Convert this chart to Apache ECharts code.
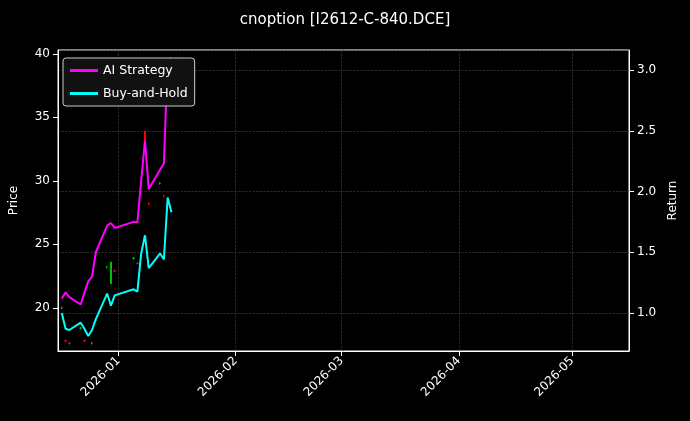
<!DOCTYPE html>
<html>
<head>
<meta charset="utf-8">
<script src="https://cdn.jsdelivr.net/npm/echarts@6/dist/echarts.min.js"></script>
<style>html,body{margin:0;background:#000}#c{width:690px;height:421px}</style>
</head>
<body>
<div id="c"></div>
<script>
// trading days shown
let dates = ['2025-12-17','2025-12-18','2025-12-19','2025-12-22','2025-12-23','2025-12-24','2025-12-25','2025-12-26',
  '2025-12-29','2025-12-30','2025-12-31','2026-01-05','2026-01-06','2026-01-07','2026-01-08','2026-01-09',
  '2026-01-12','2026-01-13','2026-01-14','2026-01-15']
let aiReturn = [1.12,1.17,1.13,1.07,1.17,1.26,1.30,1.50,1.72,1.74,1.70,1.75,1.745,2.09,2.42,2.02,2.18,2.23,3.08,3.10]
let bhReturn = [1.00,0.87,0.86,0.92,0.87,0.81,0.86,0.95,1.16,1.06,1.145,1.195,1.175,1.49,1.64,1.37,1.49,1.44,1.95,1.83]
// open, close, low, high
let ohlc = [[20,20,19.9,20.1],[17.4,17.4,17.3,17.5],[17.2,17.2,17.1,17.3],[18.4,18.4,18.3,18.5],[17.4,17.4,17.3,17.5],
  [16.2,16.2,16.1,16.3],[17.2,17.2,17.1,17.3],[19,19,18.9,19.1],[23.2,23.2,23.1,23.3],[21.9,23.6,21.9,23.6],
  [22.9,22.9,22.8,23],[23.9,23.9,23.8,24],[23.5,23.5,23.4,23.6],[29.8,29.8,29.7,29.9],[33.9,32.7,32.7,33.9],
  [28.2,28.2,28.1,28.3],[29.8,29.8,29.7,29.9],[28.8,28.8,28.7,28.9],[39,39,38.9,39.1],[36.6,36.6,36.5,36.7]]

let font = 'DejaVu Sans'
let chart = echarts.init(document.getElementById('c'))
let gridLine = {show:true, lineStyle:{color:'#444', type:'dashed', width:0.6}}
let lbl = {color:'#fff', fontSize:12, fontFamily:font}
chart.setOption({
  backgroundColor:'#000',
  animation:false,
  textStyle:{fontFamily:font},
  title:{text:'cnoption [I2612-C-840.DCE]', left:'center', top:8, textStyle:{color:'#fff', fontSize:15, fontWeight:'normal', fontFamily:font}},
  legend:{left:63, top:58, orient:'vertical', icon:'rect', itemWidth:28, itemHeight:3, itemGap:10,
    backgroundColor:'#111', borderColor:'#ccc', borderWidth:1, borderRadius:3, padding:[6,7],
    textStyle:{color:'#fff', fontSize:12.5, fontFamily:font}, data:['AI Strategy','Buy-and-Hold']},
  grid:{left:57, right:61, top:50, bottom:70, show:true, borderColor:'#fff', borderWidth:1},
  xAxis:{type:'time', min:'2025-12-16', max:'2026-05-16',
    axisLine:{lineStyle:{color:'#fff'}}, axisTick:{lineStyle:{color:'#fff'}},
    axisLabel:Object.assign({rotate:45, showMinLabel:false, showMaxLabel:false,
      formatter:function(v){let d=new Date(v);return d.getFullYear()+'-'+String(d.getMonth()+1).padStart(2,'0')}}, lbl),
    splitLine:gridLine},
  yAxis:[
    {type:'value', name:'Price', nameLocation:'middle', nameGap:38, nameTextStyle:lbl,
      min:16.6, max:40.3, axisLine:{show:true, lineStyle:{color:'#fff'}}, axisTick:{show:true},
      axisLabel:Object.assign({showMinLabel:false, showMaxLabel:false}, lbl), splitLine:{show:false}},
    {type:'value', name:'Return', nameLocation:'middle', nameGap:36, nameTextStyle:lbl,
      min:0.687, max:3.165, axisLine:{show:true, lineStyle:{color:'#fff'}}, axisTick:{show:true},
      axisLabel:Object.assign({showMinLabel:false, showMaxLabel:false, formatter:v=>v.toFixed(1)}, lbl), splitLine:gridLine}
  ],
  series:[
    {type:'candlestick', yAxisIndex:0, barWidth:2, z:1,
      itemStyle:{color:'#00c000', color0:'#ff0000', borderColor:'#00c000', borderColor0:'#ff0000'},
      data:dates.map((d,i)=>[d].concat(ohlc[i]))},
    {name:'AI Strategy', type:'line', yAxisIndex:1, showSymbol:false, z:3,
      lineStyle:{color:'#ff00ff', width:2}, itemStyle:{color:'#ff00ff'},
      data:dates.map((d,i)=>[d,aiReturn[i]])},
    {name:'Buy-and-Hold', type:'line', yAxisIndex:1, showSymbol:false, z:3,
      lineStyle:{color:'#00ffff', width:2}, itemStyle:{color:'#00ffff'},
      data:dates.map((d,i)=>[d,bhReturn[i]])}
  ]
})
</script>
</body>
</html>
